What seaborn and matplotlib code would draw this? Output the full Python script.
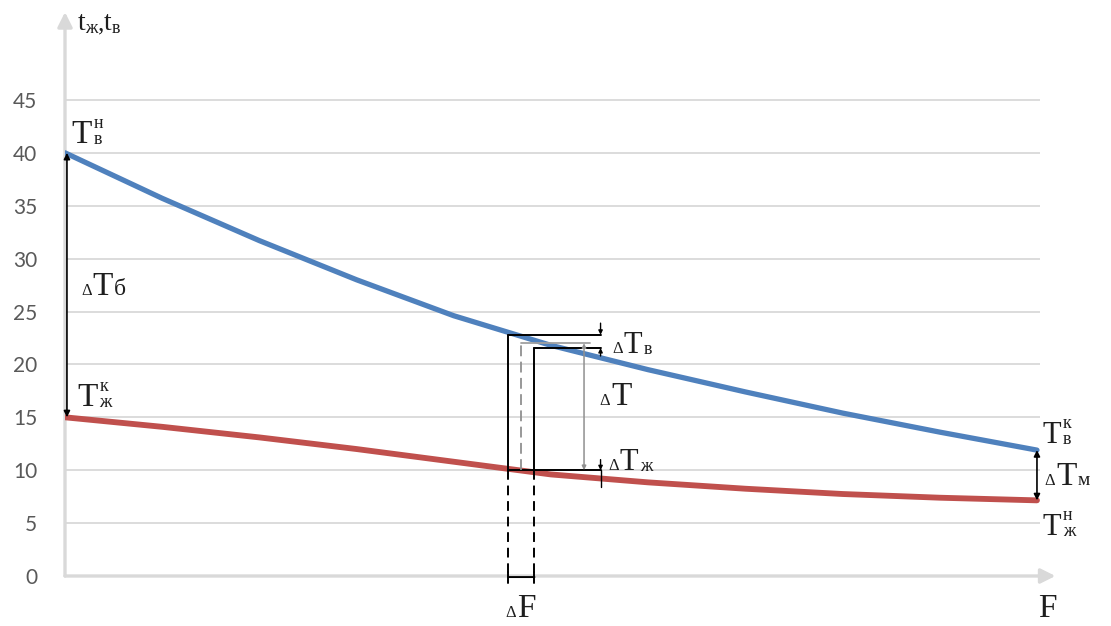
import matplotlib
matplotlib.use("Agg")
import matplotlib.pyplot as plt
import matplotlib.transforms as mtransforms
import numpy as np
import pandas as pd
import seaborn as sns

# values (F in arbitrary units 0..10)
F_pts = [0, 1, 2, 3, 4, 5, 6, 7, 8, 9, 10]
t_air = [40, 35.7, 31.7, 28.0, 24.6, 21.8, 19.5, 17.4, 15.4, 13.6, 11.9]   # blue, tв
t_liq = [15, 14.1, 13.1, 12.0, 10.8, 9.6, 8.85, 8.25, 7.75, 7.4, 7.15]     # red, tж
y_ticks = [0, 5, 10, 15, 20, 25, 30, 35, 40, 45]

# the dF element
F1, F_mid, F2, F_dT, F_right = 4.56, 4.69, 4.83, 5.34, 5.51
y_top, y_mid, y_in, y_bot = 22.8, 22.0, 21.55, 10.0

BLUE = "#4F81BD"
RED = "#C0504D"
GRID = "#D9D9D9"
INK = "#1E1E1E"
SERIF = "Liberation Serif"

sns.set_style("white")
plt.rcParams["font.family"] = ["Lato", "DejaVu Sans"]

fig = plt.figure(figsize=(11.11, 6.26), dpi=100)
ax = fig.add_axes([65 / 1111, 50 / 626, 995 / 1111, 566 / 626])
ax.set_xlim(0, 10.237)
ax.set_ylim(0, 53.5)
for s in ax.spines.values():
    s.set_visible(False)

# grid and axes with arrows
ax.hlines(y_ticks[1:], 0, 10.03, color=GRID, lw=1.3, zorder=1)
ax.annotate("", xy=(0, 53.3), xytext=(0, 0),
            arrowprops=dict(arrowstyle="-|>", color=GRID, lw=2.4, mutation_scale=22,
                            shrinkA=0, shrinkB=0), annotation_clip=False)
ax.annotate("", xy=(10.19, 0), xytext=(0, 0),
            arrowprops=dict(arrowstyle="-|>", color=GRID, lw=2.4, mutation_scale=22,
                            shrinkA=0, shrinkB=0), annotation_clip=False)

ax.set_yticks(y_ticks)
ax.set_xticks([])
ax.tick_params(axis="y", length=0, pad=20, labelsize=15, labelcolor="#595959")

df = pd.DataFrame({"F": F_pts, "air": t_air, "liq": t_liq})
sns.lineplot(data=df, x="F", y="air", ax=ax, color=BLUE, lw=3.8, zorder=3)
sns.lineplot(data=df, x="F", y="liq", ax=ax, color=RED, lw=4.2, zorder=3)
ax.set_xlabel("")
ax.set_ylabel("")


def arrow(x0, y0, x1, y1, style="<|-|>", color="black", lw=1.2, ms=9):
    ax.annotate("", xy=(x1, y1), xytext=(x0, y0), annotation_clip=False,
                arrowprops=dict(arrowstyle=style, color=color, lw=lw, mutation_scale=ms,
                                shrinkA=0, shrinkB=0), zorder=5)


# big difference arrows
arrow(0.02, 15, 0.02, 40)
arrow(10.0, t_liq[-1], 10.0, t_air[-1])

# the element box
k = dict(color="black", lw=1.4, zorder=5, clip_on=False)
ax.plot([F1, F1], [y_bot, y_top], **k)
ax.plot([F1, F_right], [y_top, y_top], **k)
ax.plot([F1, F_right], [y_bot, y_bot], **k)
ax.plot([F2, F2], [y_bot, y_in], **k)
ax.plot([F2, F_right], [y_in, y_in], **k)
ax.plot([F_mid, F_mid], [y_bot, y_mid], color="#909090", lw=1.3, ls=(0, (6, 3)), zorder=5)
ax.plot([F_mid, F_dT + 0.06], [y_mid, y_mid], color="#A0A0A0", lw=1.3, zorder=5)
arrow(F_dT, y_mid, F_dT, y_bot, color="#909090", lw=1.1, ms=6)
arrow(F_right, 23.9, F_right, y_top, style="-|>", lw=1.0, ms=6)
arrow(F_right, 20.8, F_right, y_in, style="-|>", lw=1.0, ms=6)
arrow(F_right, 11.0, F_right, y_bot, style="-|>", lw=1.0, ms=6)
ax.plot([F_right, F_right], [y_bot, 8.4], color="black", lw=1.0, zorder=5)

# dF projection to the axis
kd = dict(color="black", lw=1.4, ls=(0, (5, 3)), zorder=5, clip_on=False)
ax.plot([F1, F1], [y_bot, 0.3], **kd)
ax.plot([F2, F2], [y_bot, 0.3], **kd)
arrow(F1, -0.1, F2, -0.1, style="|-|", lw=1.4, ms=4)


def label(x, y, parts):
    r = fig.canvas.get_renderer()
    dx = 0.0
    for s, size, rise, gap, adv in parts:
        tr = mtransforms.offset_copy(ax.transData, fig=fig, x=dx + gap, y=rise, units="points")
        t = ax.text(x, y, s, fontsize=size, family=SERIF, color=INK, transform=tr,
                    ha="left", va="baseline", clip_on=False, zorder=6)
        if adv:
            dx += gap + t.get_window_extent(r).width * 72 / fig.dpi


label(0.07, 40.93, [("T", 24, 0, 0, True), ("н", 13, 11, 1, False), ("в", 13, -1, 1, True)])
label(0.13, 16.07, [("T", 24, 0, 0, True), ("к", 13, 11, 1, False), ("ж", 13, -1, 1, True)])
label(0.17, 26.56, [("Δ", 12, 0, 0, True), ("T", 24, 0, 0.5, True), ("б", 17, 0, 0.5, True)])
label(5.63, 21.08, [("Δ", 12, 0, 0, True), ("T", 22, 0, 0.5, True), ("в", 13, -1, 1, True)])
label(5.50, 16.16, [("Δ", 12, 0, 0, True), ("T", 24, 0, 0.5, True)])
label(5.59, 10.02, [("Δ", 12, 0, 0, True), ("T", 22, 0, 0.5, True), ("ж", 13, -1, 1, True)])
label(10.06, 12.57, [("T", 22, 0, 0, True), ("к", 13, 11, 1, False), ("в", 13, -1, 1, True)])
label(10.08, 8.60, [("Δ", 12, 0, 0, True), ("T", 24, 0, 0.5, True), ("м", 14, 0, 1, True)])
label(10.06, 3.88, [("T", 22, 0, 0, True), ("н", 13, 11, 1, False), ("ж", 13, -1, 1, True)])
label(10.01, -3.9, [("F", 24, 0, 0, True)])
label(4.53, -3.9, [("Δ", 12, 0, 0, True), ("F", 24, 0, 0.5, True)])
label(0.13, 51.6, [("t", 20, 0, 0, True), ("ж", 13, -2, 0, True), (",", 18, 0, 0, True),
                   ("t", 20, 0, 0, True), ("в", 13, -2, 0, True)])

fig.savefig("out.png", dpi=100)
